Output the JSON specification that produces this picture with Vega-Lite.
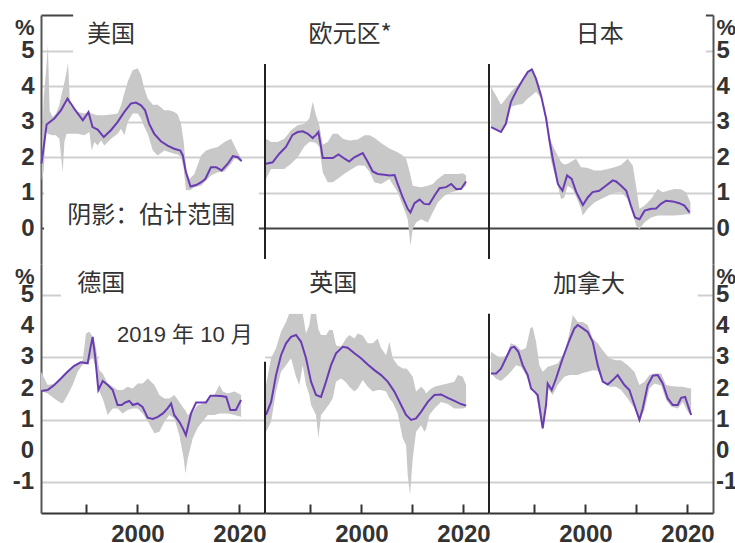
{
  "$schema": "https://vega.github.io/schema/vega-lite/v6.json",
  "padding": {"left": 12, "top": 3, "right": 0, "bottom": 0},
  "config": {
    "view": {"stroke": null},
    "axis": {"labelOverlap": false},
    "text": {"font": "Noto Sans CJK SC", "fontSize": 24, "color": "#333333"}
  },
  "datasets": {
    "ticks": [{"t": -1}, {"t": 0}, {"t": 1}, {"t": 2}, {"t": 3}, {"t": 4}, {"t": 5}],
    "lines": [
      {"c": "美国", "year": 1981.2, "v": 1.82}, {"c": "美国", "year": 1982.2, "v": 2.92}, {"c": "美国", "year": 1983.7, "v": 3.09}, {"c": "美国", "year": 1985.0, "v": 3.32}, {"c": "美国", "year": 1986.3, "v": 3.65}, {"c": "美国", "year": 1987.6, "v": 3.37}, {"c": "美国", "year": 1989.3, "v": 3.04}, {"c": "美国", "year": 1990.4, "v": 3.27}, {"c": "美国", "year": 1991.2, "v": 2.85}, {"c": "美国", "year": 1992.2, "v": 2.78}, {"c": "美国", "year": 1993.4, "v": 2.57}, {"c": "美国", "year": 1994.8, "v": 2.76}, {"c": "美国", "year": 1996.1, "v": 2.99}, {"c": "美国", "year": 1997.4, "v": 3.27}, {"c": "美国", "year": 1998.7, "v": 3.51}, {"c": "美国", "year": 1999.7, "v": 3.54}, {"c": "美国", "year": 2000.7, "v": 3.46}, {"c": "美国", "year": 2001.5, "v": 3.32}, {"c": "美国", "year": 2002.3, "v": 2.94}, {"c": "美国", "year": 2003.3, "v": 2.66}, {"c": "美国", "year": 2004.6, "v": 2.45}, {"c": "美国", "year": 2005.9, "v": 2.33}, {"c": "美国", "year": 2007.2, "v": 2.24}, {"c": "美国", "year": 2008.4, "v": 2.19}, {"c": "美国", "year": 2008.9, "v": 2.05}, {"c": "美国", "year": 2009.5, "v": 1.58}, {"c": "美国", "year": 2010.4, "v": 1.18}, {"c": "美国", "year": 2011.5, "v": 1.22}, {"c": "美国", "year": 2012.5, "v": 1.30}, {"c": "美国", "year": 2013.3, "v": 1.39}, {"c": "美国", "year": 2014.4, "v": 1.72}, {"c": "美国", "year": 2015.4, "v": 1.72}, {"c": "美国", "year": 2016.5, "v": 1.63}, {"c": "美国", "year": 2017.7, "v": 1.82}, {"c": "美国", "year": 2018.7, "v": 2.03}, {"c": "美国", "year": 2019.7, "v": 2.00}, {"c": "美国", "year": 2020.4, "v": 1.89},

      {"c": "欧元区", "year": 1981.3, "v": 1.82}, {"c": "欧元区", "year": 1982.6, "v": 1.86}, {"c": "欧元区", "year": 1983.9, "v": 2.10}, {"c": "欧元区", "year": 1985.2, "v": 2.29}, {"c": "欧元区", "year": 1986.5, "v": 2.63}, {"c": "欧元区", "year": 1987.5, "v": 2.71}, {"c": "欧元区", "year": 1988.5, "v": 2.73}, {"c": "欧元区", "year": 1989.5, "v": 2.66}, {"c": "欧元区", "year": 1990.45, "v": 2.54}, {"c": "欧元区", "year": 1991.1, "v": 2.63}, {"c": "欧元区", "year": 1991.56, "v": 2.71}, {"c": "欧元区", "year": 1992.08, "v": 2.29}, {"c": "欧元区", "year": 1992.41, "v": 1.98}, {"c": "欧元区", "year": 1993.4, "v": 1.98}, {"c": "欧元区", "year": 1994.4, "v": 1.98}, {"c": "欧元区", "year": 1995.5, "v": 2.08}, {"c": "欧元区", "year": 1996.7, "v": 1.96}, {"c": "欧元区", "year": 1997.6, "v": 1.88}, {"c": "欧元区", "year": 1998.6, "v": 2.00}, {"c": "欧元区", "year": 2000.25, "v": 2.12}, {"c": "欧元区", "year": 2001.2, "v": 1.88}, {"c": "欧元区", "year": 2002.2, "v": 1.60}, {"c": "欧元区", "year": 2003.2, "v": 1.53}, {"c": "欧元区", "year": 2004.5, "v": 1.51}, {"c": "欧元区", "year": 2005.5, "v": 1.49}, {"c": "欧元区", "year": 2006.5, "v": 1.50}, {"c": "欧元区", "year": 2007.1, "v": 1.25}, {"c": "欧元区", "year": 2008.1, "v": 0.87}, {"c": "欧元区", "year": 2009.07, "v": 0.55}, {"c": "欧元区", "year": 2009.6, "v": 0.45}, {"c": "欧元区", "year": 2010.4, "v": 0.71}, {"c": "欧元区", "year": 2011.4, "v": 0.81}, {"c": "欧元区", "year": 2012.3, "v": 0.69}, {"c": "欧元区", "year": 2013.3, "v": 0.68}, {"c": "欧元区", "year": 2014.3, "v": 0.92}, {"c": "欧元区", "year": 2015.3, "v": 1.13}, {"c": "欧元区", "year": 2016.6, "v": 1.16}, {"c": "欧元区", "year": 2017.6, "v": 1.25}, {"c": "欧元区", "year": 2018.55, "v": 1.11}, {"c": "欧元区", "year": 2019.5, "v": 1.11}, {"c": "欧元区", "year": 2020.5, "v": 1.32},

      {"c": "日本", "year": 1981.5, "v": 2.85}, {"c": "日本", "year": 1982.5, "v": 2.78}, {"c": "日本", "year": 1983.45, "v": 2.71}, {"c": "日本", "year": 1984.4, "v": 2.94}, {"c": "日本", "year": 1985.4, "v": 3.56}, {"c": "日本", "year": 1986.7, "v": 3.93}, {"c": "日本", "year": 1987.7, "v": 4.17}, {"c": "日本", "year": 1988.7, "v": 4.40}, {"c": "日本", "year": 1989.5, "v": 4.47}, {"c": "日本", "year": 1990.3, "v": 4.21}, {"c": "日本", "year": 1991.3, "v": 3.74}, {"c": "日本", "year": 1992.3, "v": 3.09}, {"c": "日本", "year": 1992.9, "v": 2.52}, {"c": "日本", "year": 1993.6, "v": 1.96}, {"c": "日本", "year": 1994.6, "v": 1.25}, {"c": "日本", "year": 1995.5, "v": 1.06}, {"c": "日本", "year": 1996.4, "v": 1.49}, {"c": "日本", "year": 1997.3, "v": 1.39}, {"c": "日本", "year": 1998.2, "v": 1.02}, {"c": "日本", "year": 1999.5, "v": 0.66}, {"c": "日本", "year": 2000.45, "v": 0.87}, {"c": "日本", "year": 2001.4, "v": 1.02}, {"c": "日本", "year": 2002.7, "v": 1.06}, {"c": "日本", "year": 2004.0, "v": 1.20}, {"c": "日本", "year": 2005.35, "v": 1.35}, {"c": "日本", "year": 2006.0, "v": 1.32}, {"c": "日本", "year": 2007.0, "v": 1.20}, {"c": "日本", "year": 2008.0, "v": 1.06}, {"c": "日本", "year": 2008.9, "v": 0.64}, {"c": "日本", "year": 2009.7, "v": 0.31}, {"c": "日本", "year": 2010.6, "v": 0.26}, {"c": "日本", "year": 2011.6, "v": 0.50}, {"c": "日本", "year": 2012.9, "v": 0.55}, {"c": "日本", "year": 2013.85, "v": 0.56}, {"c": "日本", "year": 2014.8, "v": 0.69}, {"c": "日本", "year": 2015.8, "v": 0.78}, {"c": "日本", "year": 2017.1, "v": 0.76}, {"c": "日本", "year": 2018.4, "v": 0.71}, {"c": "日本", "year": 2019.4, "v": 0.64}, {"c": "日本", "year": 2020.4, "v": 0.45},

      {"c": "德国", "year": 1981.1, "v": 1.92}, {"c": "德国", "year": 1982.4, "v": 1.95}, {"c": "德国", "year": 1983.7, "v": 2.11}, {"c": "德国", "year": 1985.0, "v": 2.32}, {"c": "德国", "year": 1986.3, "v": 2.54}, {"c": "德国", "year": 1987.6, "v": 2.73}, {"c": "德国", "year": 1988.9, "v": 2.84}, {"c": "德国", "year": 1990.25, "v": 2.81}, {"c": "德国", "year": 1990.77, "v": 3.29}, {"c": "德国", "year": 1991.23, "v": 3.66}, {"c": "德国", "year": 1991.75, "v": 2.97}, {"c": "德国", "year": 1992.34, "v": 1.95}, {"c": "德国", "year": 1993.2, "v": 2.24}, {"c": "德国", "year": 1994.2, "v": 2.11}, {"c": "德国", "year": 1995.15, "v": 1.95}, {"c": "德国", "year": 1996.1, "v": 1.47}, {"c": "德国", "year": 1996.9, "v": 1.47}, {"c": "德国", "year": 1997.6, "v": 1.55}, {"c": "德国", "year": 1998.4, "v": 1.60}, {"c": "德国", "year": 1999.1, "v": 1.47}, {"c": "德国", "year": 2000.05, "v": 1.52}, {"c": "德国", "year": 2001.0, "v": 1.41}, {"c": "德国", "year": 2002.0, "v": 1.06}, {"c": "德国", "year": 2003.0, "v": 1.02}, {"c": "德国", "year": 2004.0, "v": 1.09}, {"c": "德国", "year": 2005.0, "v": 1.20}, {"c": "德国", "year": 2005.9, "v": 1.36}, {"c": "德国", "year": 2006.6, "v": 1.52}, {"c": "德国", "year": 2007.2, "v": 1.15}, {"c": "德国", "year": 2008.2, "v": 0.93}, {"c": "德国", "year": 2008.9, "v": 0.72}, {"c": "德国", "year": 2009.5, "v": 0.50}, {"c": "德国", "year": 2010.5, "v": 1.20}, {"c": "德国", "year": 2011.5, "v": 1.55}, {"c": "德国", "year": 2012.5, "v": 1.55}, {"c": "德国", "year": 2013.45, "v": 1.55}, {"c": "德国", "year": 2014.3, "v": 1.77}, {"c": "德国", "year": 2015.4, "v": 1.77}, {"c": "德国", "year": 2016.4, "v": 1.76}, {"c": "德国", "year": 2017.4, "v": 1.73}, {"c": "德国", "year": 2018.2, "v": 1.31}, {"c": "德国", "year": 2019.3, "v": 1.31}, {"c": "德国", "year": 2020.3, "v": 1.63},

      {"c": "英国", "year": 1981.3, "v": 1.15}, {"c": "英国", "year": 1982.3, "v": 1.57}, {"c": "英国", "year": 1983.26, "v": 2.43}, {"c": "英国", "year": 1984.24, "v": 3.07}, {"c": "英国", "year": 1985.22, "v": 3.45}, {"c": "英国", "year": 1986.2, "v": 3.66}, {"c": "英国", "year": 1987.18, "v": 3.72}, {"c": "英国", "year": 1988.16, "v": 3.50}, {"c": "英国", "year": 1989.14, "v": 2.97}, {"c": "英国", "year": 1990.12, "v": 2.22}, {"c": "英国", "year": 1991.1, "v": 1.79}, {"c": "英国", "year": 1992.08, "v": 1.73}, {"c": "英国", "year": 1993.06, "v": 2.22}, {"c": "英国", "year": 1994.04, "v": 2.75}, {"c": "英国", "year": 1995.02, "v": 3.13}, {"c": "英国", "year": 1996.33, "v": 3.34}, {"c": "英国", "year": 1997.31, "v": 3.31}, {"c": "英国", "year": 1998.62, "v": 3.13}, {"c": "英国", "year": 1999.92, "v": 2.97}, {"c": "英国", "year": 2001.23, "v": 2.77}, {"c": "英国", "year": 2002.54, "v": 2.59}, {"c": "英国", "year": 2003.85, "v": 2.43}, {"c": "英国", "year": 2005.15, "v": 2.22}, {"c": "英国", "year": 2006.46, "v": 1.90}, {"c": "英国", "year": 2007.77, "v": 1.47}, {"c": "英国", "year": 2008.75, "v": 1.15}, {"c": "英国", "year": 2009.73, "v": 0.99}, {"c": "英国", "year": 2010.71, "v": 1.04}, {"c": "英国", "year": 2011.69, "v": 1.25}, {"c": "英国", "year": 2013.0, "v": 1.57}, {"c": "英国", "year": 2014.3, "v": 1.79}, {"c": "英国", "year": 2015.61, "v": 1.81}, {"c": "英国", "year": 2016.92, "v": 1.70}, {"c": "英国", "year": 2018.22, "v": 1.60}, {"c": "英国", "year": 2019.53, "v": 1.50}, {"c": "英国", "year": 2020.51, "v": 1.45},

      {"c": "加拿大", "year": 1981.5, "v": 2.48}, {"c": "加拿大", "year": 1982.5, "v": 2.48}, {"c": "加拿大", "year": 1983.45, "v": 2.64}, {"c": "加拿大", "year": 1984.43, "v": 2.97}, {"c": "加拿大", "year": 1985.41, "v": 3.31}, {"c": "加拿大", "year": 1986.07, "v": 3.34}, {"c": "加拿大", "year": 1986.85, "v": 3.18}, {"c": "加拿大", "year": 1987.7, "v": 2.75}, {"c": "加拿大", "year": 1988.68, "v": 2.43}, {"c": "加拿大", "year": 1989.34, "v": 2.00}, {"c": "加拿大", "year": 1990.0, "v": 1.90}, {"c": "加拿大", "year": 1990.64, "v": 1.79}, {"c": "加拿大", "year": 1991.62, "v": 0.72}, {"c": "加拿大", "year": 1992.28, "v": 1.47}, {"c": "加拿大", "year": 1992.6, "v": 2.16}, {"c": "加拿大", "year": 1993.39, "v": 1.95}, {"c": "加拿大", "year": 1994.24, "v": 2.32}, {"c": "加拿大", "year": 1995.54, "v": 2.97}, {"c": "加拿大", "year": 1996.85, "v": 3.55}, {"c": "加拿大", "year": 1997.83, "v": 3.93}, {"c": "加拿大", "year": 1998.49, "v": 4.04}, {"c": "加拿大", "year": 1999.47, "v": 3.93}, {"c": "加拿大", "year": 2000.45, "v": 3.82}, {"c": "加拿大", "year": 2001.43, "v": 3.50}, {"c": "加拿大", "year": 2002.41, "v": 2.75}, {"c": "加拿大", "year": 2003.39, "v": 2.22}, {"c": "加拿大", "year": 2004.37, "v": 2.13}, {"c": "加拿大", "year": 2005.35, "v": 2.27}, {"c": "加拿大", "year": 2006.33, "v": 2.43}, {"c": "加拿大", "year": 2006.98, "v": 2.27}, {"c": "加拿大", "year": 2007.64, "v": 2.11}, {"c": "加拿大", "year": 2008.62, "v": 1.95}, {"c": "加拿大", "year": 2009.6, "v": 1.47}, {"c": "加拿大", "year": 2010.58, "v": 0.99}, {"c": "加拿大", "year": 2011.23, "v": 1.36}, {"c": "加拿大", "year": 2012.21, "v": 2.11}, {"c": "加拿大", "year": 2013.19, "v": 2.41}, {"c": "加拿大", "year": 2014.17, "v": 2.43}, {"c": "加拿大", "year": 2015.15, "v": 2.16}, {"c": "加拿大", "year": 2016.13, "v": 1.68}, {"c": "加拿大", "year": 2017.12, "v": 1.47}, {"c": "加拿大", "year": 2018.1, "v": 1.47}, {"c": "加拿大", "year": 2018.75, "v": 1.70}, {"c": "加拿大", "year": 2019.54, "v": 1.73}, {"c": "加拿大", "year": 2020.06, "v": 1.47}, {"c": "加拿大", "year": 2020.71, "v": 1.15}
    ],
    "bands": [
      {"c": "美国", "year": 1981.23, "lo": 1.35, "hi": 1.96}, {"c": "美国", "year": 1981.62, "lo": 1.6, "hi": 3.65}, {"c": "美国", "year": 1982.08, "lo": 2.71, "hi": 4.4}, {"c": "美国", "year": 1982.45, "lo": 2.66, "hi": 5.15}, {"c": "美国", "year": 1982.8, "lo": 2.64, "hi": 3.3}, {"c": "美国", "year": 1983.39, "lo": 2.62, "hi": 3.13}, {"c": "美国", "year": 1984.04, "lo": 2.62, "hi": 3.23}, {"c": "美国", "year": 1984.69, "lo": 2.52, "hi": 3.46}, {"c": "美国", "year": 1985.02, "lo": 2.05, "hi": 3.7}, {"c": "美国", "year": 1985.35, "lo": 1.58, "hi": 3.9}, {"c": "美国", "year": 1985.68, "lo": 2.43, "hi": 4.1}, {"c": "美国", "year": 1986.1, "lo": 2.66, "hi": 4.4}, {"c": "美国", "year": 1986.4, "lo": 2.66, "hi": 4.65}, {"c": "美国", "year": 1986.79, "lo": 2.66, "hi": 3.46}, {"c": "美国", "year": 1987.31, "lo": 2.66, "hi": 3.37}, {"c": "美国", "year": 1988.29, "lo": 2.66, "hi": 3.27}, {"c": "美国", "year": 1989.6, "lo": 2.62, "hi": 3.23}, {"c": "美国", "year": 1990.58, "lo": 2.71, "hi": 3.27}, {"c": "美国", "year": 1991.03, "lo": 2.19, "hi": 3.23}, {"c": "美国", "year": 1991.56, "lo": 2.43, "hi": 3.2}, {"c": "美国", "year": 1992.21, "lo": 2.33, "hi": 3.18}, {"c": "美国", "year": 1992.86, "lo": 2.47, "hi": 3.18}, {"c": "美国", "year": 1993.52, "lo": 2.33, "hi": 3.18}, {"c": "美国", "year": 1994.83, "lo": 2.52, "hi": 3.2}, {"c": "美国", "year": 1996.13, "lo": 2.66, "hi": 3.23}, {"c": "美国", "year": 1996.79, "lo": 2.8, "hi": 3.46}, {"c": "美国", "year": 1997.44, "lo": 2.62, "hi": 3.8}, {"c": "美国", "year": 1998.09, "lo": 2.99, "hi": 4.12}, {"c": "美国", "year": 1999.07, "lo": 3.23, "hi": 4.45}, {"c": "美国", "year": 2000.05, "lo": 3.23, "hi": 4.5}, {"c": "美国", "year": 2000.71, "lo": 3.09, "hi": 4.31}, {"c": "美国", "year": 2001.36, "lo": 2.85, "hi": 3.93}, {"c": "美国", "year": 2002.02, "lo": 2.66, "hi": 3.65}, {"c": "美国", "year": 2003.0, "lo": 2.19, "hi": 3.48}, {"c": "美国", "year": 2003.98, "lo": 2.05, "hi": 3.48}, {"c": "美国", "year": 2005.28, "lo": 2.19, "hi": 3.32}, {"c": "美国", "year": 2006.26, "lo": 2.14, "hi": 3.32}, {"c": "美国", "year": 2007.24, "lo": 2.1, "hi": 3.27}, {"c": "美国", "year": 2007.9, "lo": 2.08, "hi": 3.2}, {"c": "美国", "year": 2008.55, "lo": 2.0, "hi": 2.94}, {"c": "美国", "year": 2009.07, "lo": 1.67, "hi": 2.43}, {"c": "美国", "year": 2009.53, "lo": 1.06, "hi": 1.67}, {"c": "美国", "year": 2010.19, "lo": 1.06, "hi": 1.39}, {"c": "美国", "year": 2011.16, "lo": 1.16, "hi": 1.53}, {"c": "美国", "year": 2012.47, "lo": 1.2, "hi": 2.05}, {"c": "美国", "year": 2013.45, "lo": 1.35, "hi": 2.19}, {"c": "美国", "year": 2014.43, "lo": 1.49, "hi": 2.24}, {"c": "美国", "year": 2015.74, "lo": 1.58, "hi": 2.29}, {"c": "美国", "year": 2017.05, "lo": 1.6, "hi": 2.43}, {"c": "美国", "year": 2018.35, "lo": 1.82, "hi": 2.52}, {"c": "美国", "year": 2019.01, "lo": 1.96, "hi": 2.33}, {"c": "美国", "year": 2019.79, "lo": 1.93, "hi": 2.1}, {"c": "美国", "year": 2020.45, "lo": 1.86, "hi": 1.96},

      {"c": "欧元区", "year": 1981.3, "lo": 1.39, "hi": 2.52}, {"c": "欧元区", "year": 1982.28, "lo": 1.67, "hi": 2.43}, {"c": "欧元区", "year": 1983.58, "lo": 1.67, "hi": 2.43}, {"c": "欧元区", "year": 1984.89, "lo": 1.67, "hi": 2.52}, {"c": "欧元区", "year": 1986.2, "lo": 1.82, "hi": 2.76}, {"c": "欧元区", "year": 1987.5, "lo": 2.0, "hi": 2.9}, {"c": "欧元区", "year": 1988.81, "lo": 2.3, "hi": 2.94}, {"c": "欧元区", "year": 1989.79, "lo": 2.43, "hi": 3.09}, {"c": "欧元区", "year": 1990.45, "lo": 2.43, "hi": 3.56}, {"c": "欧元区", "year": 1991.1, "lo": 2.4, "hi": 3.18}, {"c": "欧元区", "year": 1991.75, "lo": 2.29, "hi": 2.9}, {"c": "欧元区", "year": 1992.41, "lo": 1.58, "hi": 2.35}, {"c": "欧元区", "year": 1993.39, "lo": 1.3, "hi": 2.43}, {"c": "欧元区", "year": 1994.37, "lo": 1.3, "hi": 2.66}, {"c": "欧元区", "year": 1995.35, "lo": 1.4, "hi": 2.66}, {"c": "欧元区", "year": 1996.33, "lo": 1.5, "hi": 2.52}, {"c": "欧元区", "year": 1997.64, "lo": 1.63, "hi": 2.47}, {"c": "欧元区", "year": 1999.27, "lo": 1.77, "hi": 2.5}, {"c": "欧元区", "year": 2000.58, "lo": 1.77, "hi": 2.62}, {"c": "欧元区", "year": 2001.56, "lo": 1.6, "hi": 2.62}, {"c": "欧元区", "year": 2002.54, "lo": 1.3, "hi": 2.55}, {"c": "欧元区", "year": 2003.85, "lo": 1.25, "hi": 2.4}, {"c": "欧元区", "year": 2005.48, "lo": 1.39, "hi": 2.25}, {"c": "欧元区", "year": 2007.11, "lo": 1.02, "hi": 2.14}, {"c": "欧元区", "year": 2008.09, "lo": 0.64, "hi": 2.05}, {"c": "欧元区", "year": 2008.75, "lo": 0.4, "hi": 1.96}, {"c": "欧元区", "year": 2009.07, "lo": 0.26, "hi": 1.8}, {"c": "欧元区", "year": 2009.6, "lo": -0.49, "hi": 1.5}, {"c": "欧元区", "year": 2010.05, "lo": -0.02, "hi": 1.2}, {"c": "欧元区", "year": 2010.71, "lo": 0.17, "hi": 1.18}, {"c": "欧元区", "year": 2011.69, "lo": 0.26, "hi": 1.16}, {"c": "欧元区", "year": 2013.0, "lo": 0.17, "hi": 1.2}, {"c": "欧元区", "year": 2013.98, "lo": 0.45, "hi": 1.25}, {"c": "欧元区", "year": 2014.96, "lo": 0.73, "hi": 1.39}, {"c": "欧元区", "year": 2016.26, "lo": 0.92, "hi": 1.53}, {"c": "欧元区", "year": 2017.57, "lo": 1.02, "hi": 1.53}, {"c": "欧元区", "year": 2018.88, "lo": 1.06, "hi": 1.53}, {"c": "欧元区", "year": 2019.86, "lo": 1.13, "hi": 1.55}, {"c": "欧元区", "year": 2020.51, "lo": 1.2, "hi": 1.49},

      {"c": "日本", "year": 1981.49, "lo": 2.85, "hi": 3.98}, {"c": "日本", "year": 1982.47, "lo": 2.78, "hi": 3.74}, {"c": "日本", "year": 1983.45, "lo": 2.71, "hi": 3.48}, {"c": "日本", "year": 1984.43, "lo": 2.94, "hi": 3.65}, {"c": "日本", "year": 1985.41, "lo": 3.42, "hi": 3.84}, {"c": "日本", "year": 1986.72, "lo": 3.48, "hi": 4.03}, {"c": "日本", "year": 1987.7, "lo": 3.5, "hi": 4.17}, {"c": "日本", "year": 1988.68, "lo": 3.65, "hi": 4.42}, {"c": "日本", "year": 1989.47, "lo": 3.74, "hi": 4.5}, {"c": "日本", "year": 1990.32, "lo": 3.84, "hi": 4.21}, {"c": "日本", "year": 1991.3, "lo": 3.65, "hi": 3.76}, {"c": "日本", "year": 1992.28, "lo": 2.99, "hi": 3.12}, {"c": "日本", "year": 1993.26, "lo": 1.9, "hi": 2.43}, {"c": "日本", "year": 1994.24, "lo": 1.39, "hi": 2.14}, {"c": "日本", "year": 1995.22, "lo": 0.83, "hi": 1.86}, {"c": "日本", "year": 1995.87, "lo": 0.87, "hi": 1.8}, {"c": "日本", "year": 1996.52, "lo": 1.2, "hi": 1.82}, {"c": "日本", "year": 1997.5, "lo": 1.1, "hi": 1.9}, {"c": "日本", "year": 1998.16, "lo": 0.9, "hi": 1.96}, {"c": "日本", "year": 1999.14, "lo": 0.55, "hi": 1.72}, {"c": "日本", "year": 1999.47, "lo": 0.36, "hi": 1.72}, {"c": "日本", "year": 2000.45, "lo": 0.55, "hi": 1.7}, {"c": "日本", "year": 2001.75, "lo": 0.73, "hi": 1.63}, {"c": "日本", "year": 2003.06, "lo": 0.83, "hi": 1.63}, {"c": "日本", "year": 2004.37, "lo": 0.92, "hi": 1.67}, {"c": "日本", "year": 2005.67, "lo": 1.0, "hi": 1.72}, {"c": "日本", "year": 2006.98, "lo": 1.02, "hi": 1.78}, {"c": "日本", "year": 2008.29, "lo": 0.83, "hi": 1.96}, {"c": "日本", "year": 2009.27, "lo": 0.45, "hi": 1.77}, {"c": "日本", "year": 2009.92, "lo": 0.08, "hi": 1.2}, {"c": "日本", "year": 2010.58, "lo": -0.02, "hi": 0.55}, {"c": "日本", "year": 2011.56, "lo": 0.17, "hi": 0.64}, {"c": "日本", "year": 2012.86, "lo": 0.31, "hi": 0.83}, {"c": "日本", "year": 2014.17, "lo": 0.36, "hi": 1.11}, {"c": "日本", "year": 2015.15, "lo": 0.36, "hi": 1.02}, {"c": "日本", "year": 2016.13, "lo": 0.36, "hi": 1.06}, {"c": "日本", "year": 2017.44, "lo": 0.36, "hi": 1.11}, {"c": "日本", "year": 2018.75, "lo": 0.38, "hi": 1.1}, {"c": "日本", "year": 2019.73, "lo": 0.4, "hi": 1.02}, {"c": "日本", "year": 2020.58, "lo": 0.4, "hi": 0.73},

      {"c": "德国", "year": 1981.1, "lo": 1.92, "hi": 2.54}, {"c": "德国", "year": 1982.41, "lo": 1.84, "hi": 2.11}, {"c": "德国", "year": 1983.71, "lo": 1.68, "hi": 2.15}, {"c": "德国", "year": 1984.69, "lo": 1.57, "hi": 2.28}, {"c": "德国", "year": 1985.35, "lo": 1.52, "hi": 2.4}, {"c": "德国", "year": 1986.33, "lo": 1.79, "hi": 2.58}, {"c": "德国", "year": 1987.31, "lo": 2.11, "hi": 2.72}, {"c": "德国", "year": 1988.29, "lo": 2.54, "hi": 2.8}, {"c": "德国", "year": 1989.27, "lo": 2.77, "hi": 2.9}, {"c": "德国", "year": 1989.92, "lo": 2.78, "hi": 3.77}, {"c": "德国", "year": 1990.58, "lo": 2.9, "hi": 3.82}, {"c": "德国", "year": 1991.23, "lo": 3.0, "hi": 3.66}, {"c": "德国", "year": 1991.88, "lo": 2.64, "hi": 3.29}, {"c": "德国", "year": 1992.54, "lo": 1.9, "hi": 2.59}, {"c": "德国", "year": 1993.19, "lo": 1.68, "hi": 2.48}, {"c": "德国", "year": 1994.17, "lo": 1.15, "hi": 2.16}, {"c": "德国", "year": 1995.15, "lo": 1.36, "hi": 2.06}, {"c": "德国", "year": 1996.13, "lo": 1.36, "hi": 1.95}, {"c": "德国", "year": 1997.11, "lo": 1.2, "hi": 1.95}, {"c": "德国", "year": 1998.09, "lo": 1.31, "hi": 2.06}, {"c": "德国", "year": 1999.07, "lo": 1.36, "hi": 2.0}, {"c": "德国", "year": 2000.05, "lo": 1.36, "hi": 2.16}, {"c": "德国", "year": 2001.03, "lo": 1.2, "hi": 2.16}, {"c": "德国", "year": 2002.02, "lo": 0.95, "hi": 2.32}, {"c": "德国", "year": 2003.32, "lo": 0.56, "hi": 2.11}, {"c": "德国", "year": 2004.3, "lo": 0.61, "hi": 1.79}, {"c": "德国", "year": 2005.28, "lo": 0.93, "hi": 1.68}, {"c": "德国", "year": 2006.26, "lo": 1.15, "hi": 1.68}, {"c": "德国", "year": 2007.24, "lo": 1.04, "hi": 1.79}, {"c": "德国", "year": 2008.22, "lo": 0.5, "hi": 1.57}, {"c": "德国", "year": 2009.07, "lo": -0.25, "hi": 1.36}, {"c": "德国", "year": 2009.4, "lo": -0.73, "hi": 1.3}, {"c": "德国", "year": 2009.86, "lo": -0.25, "hi": 1.15}, {"c": "德国", "year": 2010.84, "lo": 0.4, "hi": 1.25}, {"c": "德国", "year": 2011.82, "lo": 0.75, "hi": 1.47}, {"c": "德国", "year": 2012.8, "lo": 0.95, "hi": 1.5}, {"c": "德国", "year": 2013.78, "lo": 1.15, "hi": 1.68}, {"c": "德国", "year": 2015.09, "lo": 1.15, "hi": 1.79}, {"c": "德国", "year": 2016.07, "lo": 1.2, "hi": 2.11}, {"c": "德国", "year": 2016.72, "lo": 1.2, "hi": 1.9}, {"c": "德国", "year": 2017.7, "lo": 1.2, "hi": 1.84}, {"c": "德国", "year": 2019.01, "lo": 1.15, "hi": 1.9}, {"c": "德国", "year": 2020.32, "lo": 1.09, "hi": 1.79},

      {"c": "英国", "year": 1981.3, "lo": 0.61, "hi": 2.11}, {"c": "英国", "year": 1982.28, "lo": 0.93, "hi": 2.97}, {"c": "英国", "year": 1983.26, "lo": 1.9, "hi": 3.29}, {"c": "英国", "year": 1984.24, "lo": 2.54, "hi": 3.82}, {"c": "英国", "year": 1985.22, "lo": 2.75, "hi": 4.14}, {"c": "英国", "year": 1985.87, "lo": 2.9, "hi": 4.41}, {"c": "英国", "year": 1986.2, "lo": 2.97, "hi": 4.41}, {"c": "英国", "year": 1987.18, "lo": 2.38, "hi": 4.41}, {"c": "英国", "year": 1987.83, "lo": 2.11, "hi": 4.41}, {"c": "英国", "year": 1988.49, "lo": 2.75, "hi": 4.41}, {"c": "英国", "year": 1989.14, "lo": 2.11, "hi": 3.77}, {"c": "英国", "year": 1989.79, "lo": 1.8, "hi": 4.04}, {"c": "英国", "year": 1990.12, "lo": 1.47, "hi": 4.41}, {"c": "英国", "year": 1991.1, "lo": 1.15, "hi": 4.41}, {"c": "英国", "year": 1991.56, "lo": 0.4, "hi": 3.9}, {"c": "英国", "year": 1992.08, "lo": 1.15, "hi": 3.72}, {"c": "英国", "year": 1993.06, "lo": 1.36, "hi": 3.72}, {"c": "英国", "year": 1993.71, "lo": 1.5, "hi": 3.88}, {"c": "英国", "year": 1994.37, "lo": 1.68, "hi": 3.88}, {"c": "英国", "year": 1995.02, "lo": 2.22, "hi": 3.39}, {"c": "英国", "year": 1996.0, "lo": 2.32, "hi": 3.34}, {"c": "英国", "year": 1996.98, "lo": 2.2, "hi": 3.61}, {"c": "英国", "year": 1997.64, "lo": 2.06, "hi": 3.72}, {"c": "英国", "year": 1998.62, "lo": 1.9, "hi": 3.61}, {"c": "英国", "year": 1999.27, "lo": 2.0, "hi": 3.77}, {"c": "英国", "year": 2000.25, "lo": 2.27, "hi": 3.7}, {"c": "英国", "year": 2001.23, "lo": 2.06, "hi": 3.45}, {"c": "英国", "year": 2002.21, "lo": 1.9, "hi": 3.45}, {"c": "英国", "year": 2003.19, "lo": 1.95, "hi": 3.61}, {"c": "英国", "year": 2003.85, "lo": 1.95, "hi": 3.29}, {"c": "英国", "year": 2004.83, "lo": 1.9, "hi": 3.07}, {"c": "英国", "year": 2005.48, "lo": 1.68, "hi": 3.5}, {"c": "英国", "year": 2006.13, "lo": 1.55, "hi": 2.97}, {"c": "英国", "year": 2007.11, "lo": 1.2, "hi": 2.75}, {"c": "英国", "year": 2008.09, "lo": 0.4, "hi": 2.64}, {"c": "英国", "year": 2008.75, "lo": 0.18, "hi": 2.64}, {"c": "英国", "year": 2009.07, "lo": -0.78, "hi": 2.6}, {"c": "英国", "year": 2009.53, "lo": -1.42, "hi": 2.5}, {"c": "英国", "year": 2010.05, "lo": -0.25, "hi": 2.38}, {"c": "英国", "year": 2010.71, "lo": 0.61, "hi": 1.9}, {"c": "英国", "year": 2011.69, "lo": 0.82, "hi": 2.06}, {"c": "英国", "year": 2012.34, "lo": 0.61, "hi": 1.95}, {"c": "英国", "year": 2012.67, "lo": 0.7, "hi": 1.84}, {"c": "英国", "year": 2013.32, "lo": 1.15, "hi": 1.95}, {"c": "英国", "year": 2014.3, "lo": 1.36, "hi": 2.06}, {"c": "英国", "year": 2015.61, "lo": 1.57, "hi": 2.11}, {"c": "英国", "year": 2016.92, "lo": 1.5, "hi": 2.16}, {"c": "英国", "year": 2018.22, "lo": 1.36, "hi": 2.22}, {"c": "英国", "year": 2018.88, "lo": 1.36, "hi": 2.43}, {"c": "英国", "year": 2019.86, "lo": 1.36, "hi": 2.38}, {"c": "英国", "year": 2020.51, "lo": 1.4, "hi": 2.11},

      {"c": "加拿大", "year": 1981.49, "lo": 2.48, "hi": 3.18}, {"c": "加拿大", "year": 1982.47, "lo": 2.32, "hi": 3.07}, {"c": "加拿大", "year": 1983.45, "lo": 2.24, "hi": 2.97}, {"c": "加拿大", "year": 1984.43, "lo": 2.38, "hi": 3.05}, {"c": "加拿大", "year": 1985.41, "lo": 2.54, "hi": 3.45}, {"c": "加拿大", "year": 1986.39, "lo": 2.75, "hi": 3.39}, {"c": "加拿大", "year": 1987.37, "lo": 2.7, "hi": 3.23}, {"c": "加拿大", "year": 1988.35, "lo": 2.43, "hi": 3.3}, {"c": "加拿大", "year": 1989.2, "lo": 2.05, "hi": 3.93}, {"c": "加拿大", "year": 1989.66, "lo": 1.95, "hi": 3.98}, {"c": "加拿大", "year": 1990.32, "lo": 1.79, "hi": 3.5}, {"c": "加拿大", "year": 1990.97, "lo": 1.25, "hi": 2.75}, {"c": "加拿大", "year": 1991.62, "lo": 0.66, "hi": 2.54}, {"c": "加拿大", "year": 1992.08, "lo": 1.15, "hi": 2.6}, {"c": "加拿大", "year": 1992.6, "lo": 2.0, "hi": 2.7}, {"c": "加拿大", "year": 1993.58, "lo": 1.79, "hi": 2.75}, {"c": "加拿大", "year": 1994.56, "lo": 2.11, "hi": 2.8}, {"c": "加拿大", "year": 1995.87, "lo": 2.38, "hi": 3.13}, {"c": "加拿大", "year": 1996.85, "lo": 2.43, "hi": 3.77}, {"c": "加拿大", "year": 1997.51, "lo": 2.43, "hi": 4.36}, {"c": "加拿大", "year": 1998.49, "lo": 2.43, "hi": 4.14}, {"c": "加拿大", "year": 1999.47, "lo": 2.5, "hi": 4.14}, {"c": "加拿大", "year": 2000.45, "lo": 2.54, "hi": 4.04}, {"c": "加拿大", "year": 2001.43, "lo": 2.59, "hi": 3.61}, {"c": "加拿大", "year": 2002.41, "lo": 2.57, "hi": 3.45}, {"c": "加拿大", "year": 2003.39, "lo": 2.22, "hi": 3.23}, {"c": "加拿大", "year": 2004.69, "lo": 2.06, "hi": 2.97}, {"c": "加拿大", "year": 2006.0, "lo": 2.06, "hi": 2.91}, {"c": "加拿大", "year": 2006.98, "lo": 1.95, "hi": 2.91}, {"c": "加拿大", "year": 2008.29, "lo": 1.68, "hi": 2.75}, {"c": "加拿大", "year": 2009.6, "lo": 1.36, "hi": 2.54}, {"c": "加拿大", "year": 2010.58, "lo": 0.93, "hi": 2.11}, {"c": "加拿大", "year": 2011.56, "lo": 1.31, "hi": 2.22}, {"c": "加拿大", "year": 2012.54, "lo": 2.0, "hi": 2.43}, {"c": "加拿大", "year": 2013.52, "lo": 2.16, "hi": 2.48}, {"c": "加拿大", "year": 2014.83, "lo": 2.1, "hi": 2.48}, {"c": "加拿大", "year": 2015.81, "lo": 1.63, "hi": 2.11}, {"c": "加拿大", "year": 2016.79, "lo": 1.41, "hi": 2.08}, {"c": "加拿大", "year": 2018.1, "lo": 1.36, "hi": 2.06}, {"c": "加拿大", "year": 2019.08, "lo": 1.57, "hi": 2.06}, {"c": "加拿大", "year": 2020.06, "lo": 1.25, "hi": 2.02}, {"c": "加拿大", "year": 2020.71, "lo": 1.15, "hi": 2.0}
    ]
  },
  "columns": 3,
  "spacing": 0,
  "bounds": "flush",
  "concat": [
    {
      "width": 224, "height": 249,
      "layer": [
        {
          "data": {"name": "bands"},
          "transform": [{"filter": "datum.c === '美国'"}],
          "mark": {"type": "area", "color": "#c8c8c8"},
          "encoding": {
            "x": {"field": "year", "type": "quantitative", "scale": {"domain": [1981.1, 2025], "nice": false, "zero": false}, "axis": null},
            "y": {"field": "lo", "type": "quantitative", "scale": {"domain": [-1, 6], "nice": false, "zero": false},
              "axis": {"orient": "left", "values": [0, 1, 2, 3, 4, 5, 6], "labelExpr": "datum.value == 6 ? '' : '' + datum.value", "labelOverlap": false, "ticks": false, "domainColor": "#555555", "domainWidth": 2, "labelFont": "Liberation Sans", "labelFontSize": 24, "labelFontWeight": "bold", "labelColor": "#333333", "labelPadding": 7, "grid": true, "gridColor": {"condition": {"test": "datum.value == 0 || datum.value == 6", "value": "#444444"}, "value": "#cfcfcf"}, "gridWidth": 2, "title": "%", "titleFont": "Liberation Sans", "titleFontSize": 22, "titleFontWeight": "bold", "titleColor": "#333333", "titleAngle": 0, "titleAlign": "right", "titleBaseline": "middle", "titleX": -7, "titleY": 12}},
            "y2": {"field": "hi"}
          }
        },
        {
          "data": {"name": "lines"},
          "transform": [{"filter": "datum.c === '美国'"}],
          "mark": {"type": "line", "color": "#6a3cb4", "strokeWidth": 2},
          "encoding": {
            "x": {"field": "year", "type": "quantitative", "scale": {"domain": [1981.1, 2025], "nice": false, "zero": false}},
            "y": {"field": "v", "type": "quantitative", "scale": {"domain": [-1, 6], "nice": false, "zero": false}}
          }
        },
        {
          "data": {"values": [{}]},
          "mark": {"type": "rect", "color": "white"},
          "encoding": {"x": {"datum": 1987.4}, "x2": {"datum": 2025}, "y": {"datum": 4.62}, "y2": {"datum": 6.05}}
        },
        {
          "data": {"values": [{}]},
          "mark": {"type": "rect", "color": "white"},
          "encoding": {"x": {"datum": 1981.7}, "x2": {"datum": 2023.8}, "y": {"datum": -1}, "y2": {"datum": 1.07}}
        },
        {
          "data": {"values": [{}]},
          "mark": {"type": "text"},
          "encoding": {"x": {"datum": 1994.8}, "y": {"datum": 5.44}, "text": {"value": "美国"}}
        },
        {
          "data": {"values": [{}]},
          "mark": {"type": "text"},
          "encoding": {"x": {"datum": 2002.7}, "y": {"datum": 0.34}, "text": {"value": "阴影：估计范围"}}
        }
      ]
    },
    {
      "width": 224, "height": 249,
      "layer": [
        {
          "data": {"name": "bands"},
          "transform": [{"filter": "datum.c === '欧元区'"}],
          "mark": {"type": "area", "color": "#c8c8c8"},
          "encoding": {
            "x": {"field": "year", "type": "quantitative", "scale": {"domain": [1981.1, 2025], "nice": false, "zero": false}, "axis": null},
            "y": {"field": "lo", "type": "quantitative", "scale": {"domain": [-1, 6], "nice": false, "zero": false},
              "axis": {"values": [0, 1, 2, 3, 4, 5, 6], "labels": false, "ticks": false, "domain": false, "grid": true, "gridColor": {"condition": {"test": "datum.value == 0 || datum.value == 6", "value": "#444444"}, "value": "#cfcfcf"}, "gridWidth": 2, "title": null}},
            "y2": {"field": "hi"}
          }
        },
        {
          "data": {"name": "lines"},
          "transform": [{"filter": "datum.c === '欧元区'"}],
          "mark": {"type": "line", "color": "#6a3cb4", "strokeWidth": 2},
          "encoding": {
            "x": {"field": "year", "type": "quantitative", "scale": {"domain": [1981.1, 2025], "nice": false, "zero": false}},
            "y": {"field": "v", "type": "quantitative", "scale": {"domain": [-1, 6], "nice": false, "zero": false}}
          }
        },
        {
          "data": {"values": [{}]},
          "mark": {"type": "rect", "color": "white"},
          "encoding": {"x": {"datum": 1981.1}, "x2": {"datum": 2025}, "y": {"datum": 4.62}, "y2": {"datum": 6.05}}
        },
        {
          "data": {"values": [{}]},
          "mark": {"type": "rule", "color": "#222222", "strokeWidth": 2},
          "encoding": {"x": {"datum": 1981.1}, "y": {"datum": -0.86}, "y2": {"datum": 4.62}}
        },
        {
          "data": {"values": [{}]},
          "mark": {"type": "text"},
          "encoding": {"x": {"datum": 1997.8}, "y": {"datum": 5.44}, "text": {"value": "欧元区*"}}
        }
      ]
    },
    {
      "width": 224, "height": 249,
      "layer": [
        {
          "data": {"name": "bands"},
          "transform": [{"filter": "datum.c === '日本'"}],
          "mark": {"type": "area", "color": "#c8c8c8"},
          "encoding": {
            "x": {"field": "year", "type": "quantitative", "scale": {"domain": [1981.1, 2025], "nice": false, "zero": false}, "axis": null},
            "y": {"field": "lo", "type": "quantitative", "scale": {"domain": [-1, 6], "nice": false, "zero": false},
              "axis": {"orient": "right", "values": [0, 1, 2, 3, 4, 5, 6], "labelExpr": "datum.value == 6 ? '' : '' + datum.value", "labelOverlap": false, "ticks": false, "domainColor": "#555555", "domainWidth": 2, "labelFont": "Liberation Sans", "labelFontSize": 24, "labelFontWeight": "bold", "labelColor": "#333333", "labelPadding": 3, "grid": true, "gridColor": {"condition": {"test": "datum.value == 0 || datum.value == 6", "value": "#444444"}, "value": "#cfcfcf"}, "gridWidth": 2, "title": "%", "titleFont": "Liberation Sans", "titleFontSize": 22, "titleFontWeight": "bold", "titleColor": "#333333", "titleAngle": 0, "titleAlign": "left", "titleBaseline": "middle", "titleX": 3, "titleY": 12}},
            "y2": {"field": "hi"}
          }
        },
        {
          "data": {"name": "lines"},
          "transform": [{"filter": "datum.c === '日本'"}],
          "mark": {"type": "line", "color": "#6a3cb4", "strokeWidth": 2},
          "encoding": {
            "x": {"field": "year", "type": "quantitative", "scale": {"domain": [1981.1, 2025], "nice": false, "zero": false}},
            "y": {"field": "v", "type": "quantitative", "scale": {"domain": [-1, 6], "nice": false, "zero": false}}
          }
        },
        {
          "data": {"values": [{}]},
          "mark": {"type": "rect", "color": "white"},
          "encoding": {"x": {"datum": 1981.1}, "x2": {"datum": 2023.6}, "y": {"datum": 4.62}, "y2": {"datum": 6.05}}
        },
        {
          "data": {"values": [{}]},
          "mark": {"type": "rule", "color": "#222222", "strokeWidth": 2},
          "encoding": {"x": {"datum": 1981.1}, "y": {"datum": -0.86}, "y2": {"datum": 4.62}}
        },
        {
          "data": {"values": [{}]},
          "mark": {"type": "text"},
          "encoding": {"x": {"datum": 2002.8}, "y": {"datum": 5.45}, "text": {"value": "日本"}}
        }
      ]
    },
    {
      "width": 224, "height": 249,
      "layer": [
        {
          "data": {"name": "bands"},
          "transform": [{"filter": "datum.c === '德国'"}],
          "mark": {"type": "area", "color": "#c8c8c8"},
          "encoding": {
            "x": {"field": "year", "type": "quantitative", "scale": {"domain": [1981.1, 2025], "nice": false, "zero": false},
              "axis": {"values": [1990, 2000, 2010, 2020], "format": "d", "labelExpr": "datum.value % 20 == 0 ? datum.label : ''", "tickSize": -9, "tickWidth": 2, "tickColor": "#333333", "domainColor": "#333333", "domainWidth": 2, "labelFont": "Liberation Sans", "labelFontSize": 24, "labelFontWeight": "bold", "labelColor": "#333333", "labelPadding": 18, "labelFlush": false, "labelOverlap": false, "grid": false, "title": null}},
            "y": {"field": "lo", "type": "quantitative", "scale": {"domain": [-2, 6], "nice": false, "zero": false},
              "axis": {"orient": "left", "values": [-1, 0, 1, 2, 3, 4, 5, 6], "labels": false, "ticks": false, "domainColor": "#555555", "domainWidth": 2, "grid": true, "gridColor": {"condition": {"test": "datum.value == 0 || datum.value == 6", "value": "#444444"}, "value": "#cfcfcf"}, "gridWidth": 2, "title": "%", "titleFont": "Liberation Sans", "titleFontSize": 22, "titleFontWeight": "bold", "titleColor": "#333333", "titleAngle": 0, "titleAlign": "right", "titleBaseline": "middle", "titleX": -7, "titleY": 12}},
            "y2": {"field": "hi"}
          }
        },
        {
          "data": {"name": "lines"},
          "transform": [{"filter": "datum.c === '德国'"}],
          "mark": {"type": "line", "color": "#6a3cb4", "strokeWidth": 2},
          "encoding": {
            "x": {"field": "year", "type": "quantitative", "scale": {"domain": [1981.1, 2025], "nice": false, "zero": false}},
            "y": {"field": "v", "type": "quantitative", "scale": {"domain": [-2, 6], "nice": false, "zero": false}}
          }
        },
        {
          "data": {"values": [{}]},
          "mark": {"type": "rect", "color": "white"},
          "encoding": {"x": {"datum": 1985.0}, "x2": {"datum": 2025}, "y": {"datum": 4.4}, "y2": {"datum": 6.05}}
        },
        {
          "data": {"values": [{}]},
          "mark": {"type": "rect", "color": "white"},
          "encoding": {"x": {"datum": 1992.5}, "x2": {"datum": 2025}, "y": {"datum": 2.86}, "y2": {"datum": 4.4}}
        },
        {
          "data": {"name": "ticks"},
          "mark": {"type": "text", "align": "right", "baseline": "middle", "dx": -7, "font": "Liberation Sans", "fontSize": 24, "fontWeight": "bold", "color": "#333333"},
          "encoding": {
            "x": {"datum": 1981.1},
            "y": {"field": "t", "type": "quantitative", "scale": {"domain": [-2, 6], "nice": false, "zero": false}},
            "text": {"field": "t", "type": "nominal"}
          }
        },
        {
          "data": {"values": [{}]},
          "mark": {"type": "text"},
          "encoding": {"x": {"datum": 1992.9}, "y": {"datum": 5.37}, "text": {"value": "德国"}}
        },
        {
          "data": {"values": [{}]},
          "mark": {"type": "text", "font": "Liberation Sans, Noto Sans CJK SC", "fontSize": 22},
          "encoding": {"x": {"datum": 2009.3}, "y": {"datum": 3.73}, "text": {"value": "2019 年 10 月"}}
        }
      ]
    },
    {
      "width": 224, "height": 249,
      "layer": [
        {
          "data": {"name": "bands"},
          "transform": [{"filter": "datum.c === '英国'"}],
          "mark": {"type": "area", "color": "#c8c8c8"},
          "encoding": {
            "x": {"field": "year", "type": "quantitative", "scale": {"domain": [1981.1, 2025], "nice": false, "zero": false},
              "axis": {"values": [1990, 2000, 2010, 2020], "format": "d", "labelExpr": "datum.value % 20 == 0 ? datum.label : ''", "tickSize": -9, "tickWidth": 2, "tickColor": "#333333", "domainColor": "#333333", "domainWidth": 2, "labelFont": "Liberation Sans", "labelFontSize": 24, "labelFontWeight": "bold", "labelColor": "#333333", "labelPadding": 18, "labelFlush": false, "labelOverlap": false, "grid": false, "title": null}},
            "y": {"field": "lo", "type": "quantitative", "scale": {"domain": [-2, 6], "nice": false, "zero": false},
              "axis": {"values": [-1, 0, 1, 2, 3, 4, 5, 6], "labels": false, "ticks": false, "domain": false, "grid": true, "gridColor": {"condition": {"test": "datum.value == 0 || datum.value == 6", "value": "#444444"}, "value": "#cfcfcf"}, "gridWidth": 2, "title": null}},
            "y2": {"field": "hi"}
          }
        },
        {
          "data": {"name": "lines"},
          "transform": [{"filter": "datum.c === '英国'"}],
          "mark": {"type": "line", "color": "#6a3cb4", "strokeWidth": 2},
          "encoding": {
            "x": {"field": "year", "type": "quantitative", "scale": {"domain": [1981.1, 2025], "nice": false, "zero": false}},
            "y": {"field": "v", "type": "quantitative", "scale": {"domain": [-2, 6], "nice": false, "zero": false}}
          }
        },
        {
          "data": {"values": [{}]},
          "mark": {"type": "rect", "color": "white"},
          "encoding": {"x": {"datum": 1981.1}, "x2": {"datum": 2025}, "y": {"datum": 4.4}, "y2": {"datum": 6.05}}
        },
        {
          "data": {"values": [{}]},
          "mark": {"type": "rule", "color": "#222222", "strokeWidth": 2},
          "encoding": {"x": {"datum": 1981.1}, "y": {"datum": -2}, "y2": {"datum": 2.86}}
        },
        {
          "data": {"values": [{}]},
          "mark": {"type": "text"},
          "encoding": {"x": {"datum": 1994.5}, "y": {"datum": 5.37}, "text": {"value": "英国"}}
        }
      ]
    },
    {
      "width": 224, "height": 249,
      "layer": [
        {
          "data": {"name": "bands"},
          "transform": [{"filter": "datum.c === '加拿大'"}],
          "mark": {"type": "area", "color": "#c8c8c8"},
          "encoding": {
            "x": {"field": "year", "type": "quantitative", "scale": {"domain": [1981.1, 2025], "nice": false, "zero": false},
              "axis": {"values": [1990, 2000, 2010, 2020], "format": "d", "labelExpr": "datum.value % 20 == 0 ? datum.label : ''", "tickSize": -9, "tickWidth": 2, "tickColor": "#333333", "domainColor": "#333333", "domainWidth": 2, "labelFont": "Liberation Sans", "labelFontSize": 24, "labelFontWeight": "bold", "labelColor": "#333333", "labelPadding": 18, "labelFlush": false, "labelOverlap": false, "grid": false, "title": null}},
            "y": {"field": "lo", "type": "quantitative", "scale": {"domain": [-2, 6], "nice": false, "zero": false},
              "axis": {"orient": "right", "values": [-1, 0, 1, 2, 3, 4, 5, 6], "labels": false, "ticks": false, "domainColor": "#555555", "domainWidth": 2, "grid": true, "gridColor": {"condition": {"test": "datum.value == 0 || datum.value == 6", "value": "#444444"}, "value": "#cfcfcf"}, "gridWidth": 2, "title": "%", "titleFont": "Liberation Sans", "titleFontSize": 22, "titleFontWeight": "bold", "titleColor": "#333333", "titleAngle": 0, "titleAlign": "left", "titleBaseline": "middle", "titleX": 3, "titleY": 12}},
            "y2": {"field": "hi"}
          }
        },
        {
          "data": {"name": "lines"},
          "transform": [{"filter": "datum.c === '加拿大'"}],
          "mark": {"type": "line", "color": "#6a3cb4", "strokeWidth": 2},
          "encoding": {
            "x": {"field": "year", "type": "quantitative", "scale": {"domain": [1981.1, 2025], "nice": false, "zero": false}},
            "y": {"field": "v", "type": "quantitative", "scale": {"domain": [-2, 6], "nice": false, "zero": false}}
          }
        },
        {
          "data": {"values": [{}]},
          "mark": {"type": "rect", "color": "white"},
          "encoding": {"x": {"datum": 1981.1}, "x2": {"datum": 2022.0}, "y": {"datum": 4.4}, "y2": {"datum": 6.05}}
        },
        {
          "data": {"values": [{}]},
          "mark": {"type": "rule", "color": "#222222", "strokeWidth": 2},
          "encoding": {"x": {"datum": 1981.1}, "y": {"datum": -2}, "y2": {"datum": 4.4}}
        },
        {
          "data": {"name": "ticks"},
          "mark": {"type": "text", "align": "left", "baseline": "middle", "dx": 3, "font": "Liberation Sans", "fontSize": 24, "fontWeight": "bold", "color": "#333333"},
          "encoding": {
            "x": {"datum": 2025},
            "y": {"field": "t", "type": "quantitative", "scale": {"domain": [-2, 6], "nice": false, "zero": false}},
            "text": {"field": "t", "type": "nominal"}
          }
        },
        {
          "data": {"values": [{}]},
          "mark": {"type": "text"},
          "encoding": {"x": {"datum": 2000.7}, "y": {"datum": 5.34}, "text": {"value": "加拿大"}}
        }
      ]
    }
  ]
}
